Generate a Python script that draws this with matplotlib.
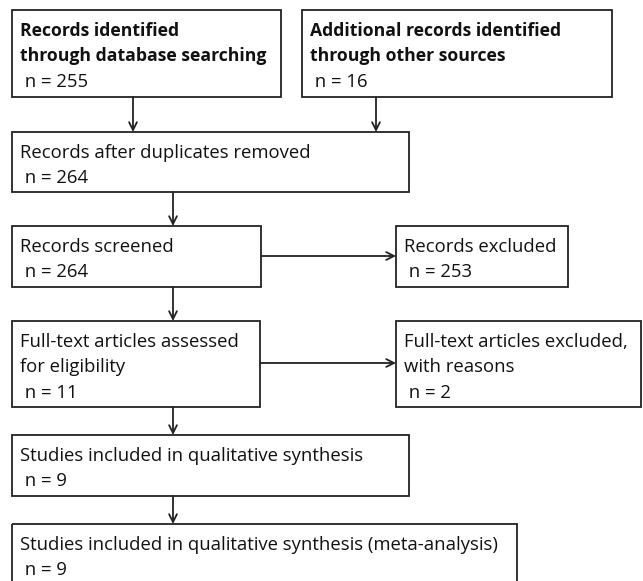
import matplotlib
matplotlib.use("Agg")
import matplotlib.pyplot as plt
from matplotlib.patches import Rectangle

# Data
box_titles = [
    ["Records identified", "through database searching"],
    ["Additional records identified", "through other sources"],
    ["Records after duplicates removed"],
    ["Records screened"],
    ["Records excluded"],
    ["Full-text articles assessed", "for eligibility"],
    ["Full-text articles excluded,", "with reasons"],
    ["Studies included in qualitative synthesis"],
    ["Studies included in qualitative synthesis (meta-analysis)"],
]
box_counts = [255, 16, 264, 264, 253, 11, 2, 9, 9]
box_bold = [True, True, False, False, False, False, False, False, False]

# layout (pixels): x0, y0, x1, y1
boxes = [
    (12, 10, 281, 97),
    (302, 10, 612, 97),
    (12, 132, 409, 192),
    (12, 226, 261, 287),
    (396, 226, 568, 287),
    (12, 321, 260, 407),
    (396, 321, 641, 407),
    (12, 435, 409, 496),
    (12, 524, 517, 600),
]
W, H = 643, 581
fig = plt.figure(figsize=(W / 100, H / 100), dpi=100)
ax = fig.add_axes([0, 0, 1, 1])
ax.set_xlim(0, W)
ax.set_ylim(H, 0)
ax.axis("off")

family = "Open Sans"
fs_reg = 13.3
fs_bold = 12.7
line_h = 25.3
for (x0, y0, x1, y1), lines, n, bold in zip(boxes, box_titles, box_counts, box_bold):
    ax.add_patch(Rectangle((x0, y0), x1 - x0, y1 - y0, fill=False,
                           edgecolor="#222222", linewidth=1.3))
    allines = lines + [" n = %d" % n]
    for i, t in enumerate(allines):
        isb = bold and i < len(lines)
        ax.text(x0 + 8, y0 + 26 + i * line_h, t,
                fontsize=fs_bold if isb else fs_reg, family=family,
                fontweight="bold" if isb else "normal",
                va="baseline", ha="left", color="#111111")

arrows = [
    ((133, 97), (133, 132)),
    ((376, 97), (376, 132)),
    ((173, 192), (173, 226)),
    ((173, 287), (173, 321)),
    ((261, 256), (396, 256)),
    ((260, 363), (396, 363)),
    ((173, 407), (173, 435)),
    ((173, 496), (173, 524)),
]
for (sx, sy), (ex, ey) in arrows:
    ax.annotate("", xy=(ex, ey), xytext=(sx, sy),
                arrowprops=dict(arrowstyle="->", color="#222222", lw=1.3,
                                shrinkA=0, shrinkB=0, mutation_scale=14))

fig.savefig("out.png", dpi=100)
